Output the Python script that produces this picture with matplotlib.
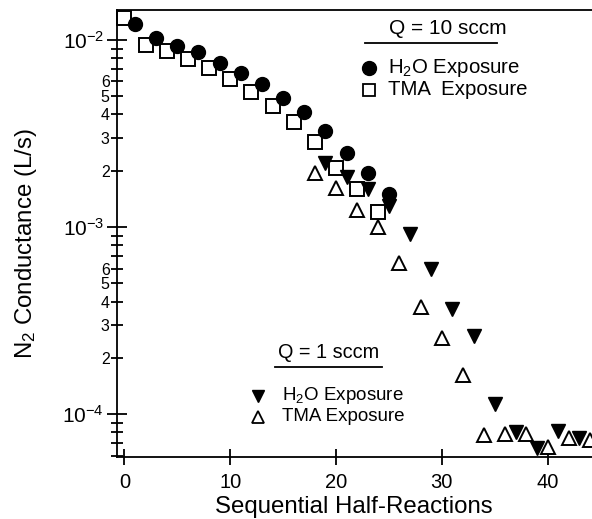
import matplotlib
matplotlib.use("Agg")
import matplotlib.pyplot as plt
from matplotlib.ticker import FixedLocator, FixedFormatter, NullLocator

plt.rcParams["font.family"] = ["Liberation Sans", "DejaVu Sans"]
plt.rcParams["mathtext.fontset"] = "custom"
plt.rcParams["mathtext.rm"] = "Liberation Sans"
plt.rcParams["mathtext.it"] = "Liberation Sans:italic"
plt.rcParams["mathtext.bf"] = "Liberation Sans:bold"

# Q = 10 sccm
h2o_10_x = [1, 3, 5, 7, 9, 11, 13, 15, 17, 19, 21, 23, 25]
h2o_10_y = [0.0122, 0.01028, 0.0093, 0.00866, 0.00756, 0.00664, 0.0058,
            0.00491, 0.0041, 0.00327, 0.00249, 0.00195, 0.00151]
tma_10_x = [0, 2, 4, 6, 8, 10, 12, 14, 16, 18, 20, 22, 24]
tma_10_y = [0.0131, 0.0094, 0.00873, 0.00791, 0.00711, 0.00619, 0.00529,
            0.00446, 0.00366, 0.00286, 0.00206, 0.00159, 0.00121]

# Q = 1 sccm
h2o_1_x = [19, 21, 23, 25, 27, 29, 31, 33, 35, 37, 39, 41, 43]
h2o_1_y = [0.00221, 0.00186, 0.00159, 0.00129, 0.000918, 0.000596, 0.000363,
           0.000261, 0.000113, 8.0e-5, 6.6e-5, 8.1e-5, 7.5e-5]
tma_1_x = [18, 20, 22, 24, 26, 28, 30, 32, 34, 36, 38, 40, 42, 44]
tma_1_y = [0.00195, 0.00161, 0.00123, 0.000996, 0.00064, 0.000375, 0.000255,
           0.000162, 7.7e-5, 7.8e-5, 7.8e-5, 6.7e-5, 7.5e-5, 7.3e-5]

fig = plt.figure(figsize=(5.92, 5.19), dpi=100)
ax = fig.add_axes([0.197, 0.12, 0.803, 0.8607])

ms = 9.5
ax.plot(tma_10_x, tma_10_y, "s", ms=ms, mfc="white", mec="black", mew=1.4, clip_on=False)
ax.plot(h2o_10_x, h2o_10_y, "o", ms=ms + 0.5, color="black", clip_on=False)
ax.plot(tma_1_x, tma_1_y, "^", ms=ms, mfc="white", mec="black", mew=1.4, clip_on=False)
ax.plot(h2o_1_x, h2o_1_y, "v", ms=ms, color="black", clip_on=False)

ax.set_yscale("log")
ax.set_xlim(-0.74, 44.2)
ax.set_ylim(5.93e-5, 0.01445)

for side in ["left", "top", "bottom"]:
    ax.spines[side].set_linewidth(1.3)
ax.spines["right"].set_visible(False)

ax.xaxis.set_major_locator(FixedLocator([0, 10, 20, 30, 40]))
ax.xaxis.set_minor_locator(NullLocator())
ax.tick_params(axis="x", which="major", direction="inout", length=11, width=1.3,
               labelsize=14.5, pad=6, top=False)

ax.yaxis.set_major_locator(FixedLocator([1e-4, 1e-3, 1e-2]))
ax.yaxis.set_major_formatter(FixedFormatter(["$10^{-4}$", "$10^{-3}$", "$10^{-2}$"]))
minor_vals = []
minor_labels = []
for dec in [1e-5, 1e-4, 1e-3, 1e-2]:
    for m in range(2, 10):
        minor_vals.append(m * dec)
        if dec in (1e-4, 1e-3) and m <= 6:
            minor_labels.append(str(m))
        else:
            minor_labels.append("")
ax.yaxis.set_minor_locator(FixedLocator(minor_vals))
ax.yaxis.set_minor_formatter(FixedFormatter(minor_labels))
ax.tick_params(axis="y", which="major", direction="inout", length=14, width=1.3,
               labelsize=15, pad=2)
ax.tick_params(axis="y", which="minor", direction="inout", length=8, width=1.3,
               labelsize=11.5, pad=1)

ax.set_xlabel("Sequential Half-Reactions", fontsize=17.3, labelpad=3)
ax.set_ylabel("N$_2$ Conductance (L/s)", fontsize=17.3)
ylab = ax.yaxis.label
ylab.set_rotation_mode("default")
ylab.set_verticalalignment("center")
ylab.set_horizontalalignment("center")
ax.yaxis.set_label_coords(-0.1905, 0.478)

# legend for Q = 10 sccm
tr = ax.transAxes
ax.text(0.697, 0.959, "Q = 10 sccm", transform=tr, fontsize=15,
        ha="center", va="center")
ax.plot([0.522, 0.80], [0.926, 0.926], color="black", lw=1.3, transform=tr)
ax.plot([0.531], [0.870], "o", ms=ms + 0.5, color="black", transform=tr)
ax.plot([0.531], [0.821], "s", ms=ms - 1, mfc="white", mec="black", mew=1.3, transform=tr)
ax.text(0.571, 0.870, "H$_2$O Exposure", transform=tr, fontsize=14.7, va="center")
ax.text(0.571, 0.821, "TMA  Exposure", transform=tr, fontsize=14.7, va="center")

# legend for Q = 1 sccm
ax.text(0.445, 0.234, "Q = 1 sccm", transform=tr, fontsize=14.3,
        ha="center", va="center")
ax.plot([0.333, 0.558], [0.2015, 0.2015], color="black", lw=1.3, transform=tr)
ax.plot([0.297], [0.136], "v", ms=ms - 1.5, color="black", transform=tr)
ax.plot([0.297], [0.089], "^", ms=ms - 1.5, mfc="white", mec="black", mew=1.3, transform=tr)
ax.text(0.348, 0.136, "H$_2$O Exposure", transform=tr, fontsize=13.5, va="center")
ax.text(0.348, 0.089, "TMA Exposure", transform=tr, fontsize=13.5, va="center")

fig.savefig("out.png", dpi=100)
